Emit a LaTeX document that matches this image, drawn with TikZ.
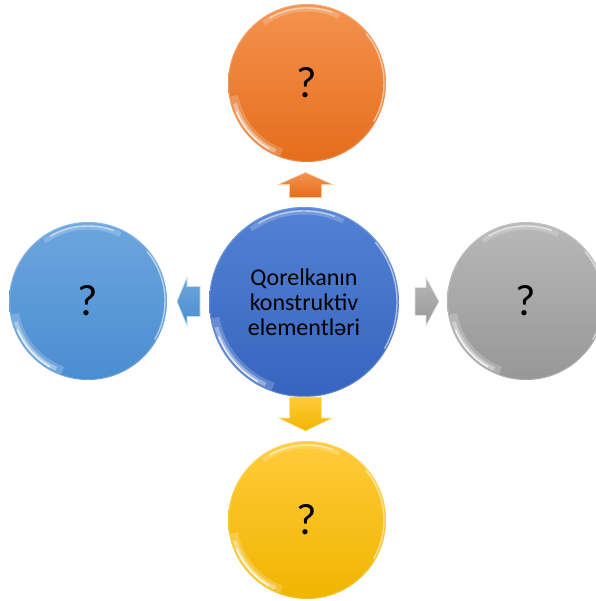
\documentclass[tikz,border=0pt]{standalone}
\usepackage{fontspec}
\setmainfont{Carlito}
\usetikzlibrary{calc}

% glossy highlights on a ball: #1 node name, #2 radius
\newcommand\ballgloss[2]{%
  \begin{scope}[shift={(#1.center)}]
    \draw[white, opacity=.2, line width=0.8pt] (0,0) circle[radius=#2-0.6];
    % upper rim sheen
    \draw[white, opacity=.2, line width=5pt]
      (-126:#2-5) arc[start angle=-126, end angle=-64, radius=#2-5];
    \draw[white, opacity=.5, line width=1.4pt]
      (-120:#2-4) arc[start angle=-120, end angle=-70, radius=#2-4];
    % lower-left crescent
    \draw[white, opacity=.2, line width=8pt]
      (110:#2-5) arc[start angle=110, end angle=170, radius=#2-5];
    \draw[white, opacity=.35, line width=4pt]
      (115:#2-4) arc[start angle=115, end angle=164, radius=#2-4];
    \draw[white, opacity=.7, line width=1.8pt]
      (120:#2-3) arc[start angle=120, end angle=158, radius=#2-3];
    % right rim light
    \draw[white, opacity=.55, line width=1.4pt]
      (30:#2-2) arc[start angle=30, end angle=-40, radius=#2-2];
  \end{scope}}

\begin{document}
\begin{tikzpicture}[x=1pt, y=-1pt,
  ball/.style={circle, inner sep=0pt, minimum size=158pt,
    font=\fontsize{44}{44}\selectfont, text=black},
  hub/.style={circle, inner sep=0pt, minimum size=190pt, align=center,
    font=\fontsize{24}{25}\selectfont, text=black},
  blockarrow/.style={line width=0.6pt, line join=miter}]
\useasboundingbox (0,0) rectangle (595,601);

\definecolor{orgTop}{HTML}{F4934E}
\definecolor{orgBot}{HTML}{E56D1C}
\definecolor{bluTop}{HTML}{6CA6DD}
\definecolor{bluBot}{HTML}{4A8DD1}
\definecolor{hubTop}{HTML}{5282D4}
\definecolor{hubBot}{HTML}{3764BE}
\definecolor{gryTop}{HTML}{B8B8B8}
\definecolor{gryBot}{HTML}{979797}
\definecolor{ylwTop}{HTML}{FFCB3A}
\definecolor{ylwBot}{HTML}{F0B500}

% balls
\node[hub, top color=hubTop, bottom color=hubBot] (hub) at (304,302)
  {Qorelkanın\\konstruktiv\\elementləri};
\node[ball, top color=orgTop, bottom color=orgBot] (up) at (307,83) {?};
\node[ball, top color=bluTop, bottom color=bluBot] (left) at (88,301) {?};
\node[ball, top color=gryTop, bottom color=gryBot] (right) at (526,301) {?};
\node[ball, top color=ylwTop, bottom color=ylwBot] (down) at (307,520) {?};

\ballgloss{hub}{95}
\ballgloss{up}{79}
\ballgloss{left}{79}
\ballgloss{right}{79}
\ballgloss{down}{79}

% block arrows from the hub to each ball
\coordinate (aUp) at ($(hub.north)!0.5!(up.south)$);
\coordinate (aDown) at ($(hub.south)!0.5!(down.north)$);
\coordinate (aLeft) at ($(hub.west)!0.5!(left.east)$);
\coordinate (aRight) at ($(hub.east)!0.5!(right.west)$);

\draw[blockarrow, draw=orange!40!white, top color=orgTop, bottom color=orgBot, shift={(aUp)}]
  (0,-12) -- (27,0) -- (16,0) -- (16,13) -- (-16,13) -- (-16,0) -- (-27,0) -- cycle;
\draw[blockarrow, draw=ylwTop!50!white, top color=ylwTop, bottom color=ylwBot, shift={(aDown)}]
  (0,12) -- (27,-1) -- (16,-1) -- (16,-22) -- (-16,-22) -- (-16,-1) -- (-27,-1) -- cycle;
\draw[blockarrow, draw=bluTop!40!white, top color=bluTop, bottom color=bluBot, shift={(aLeft)}]
  (-11,0) -- (-1,-24) -- (-1,-15) -- (12,-15) -- (12,15) -- (-1,15) -- (-1,24) -- cycle;
\draw[blockarrow, draw=gryTop!40!white, top color=gryTop, bottom color=gryBot, shift={(aRight)}]
  (16,0) -- (3,-24) -- (3,-14) -- (-8,-14) -- (-8,14) -- (3,14) -- (3,24) -- cycle;
\end{tikzpicture}
\end{document}
